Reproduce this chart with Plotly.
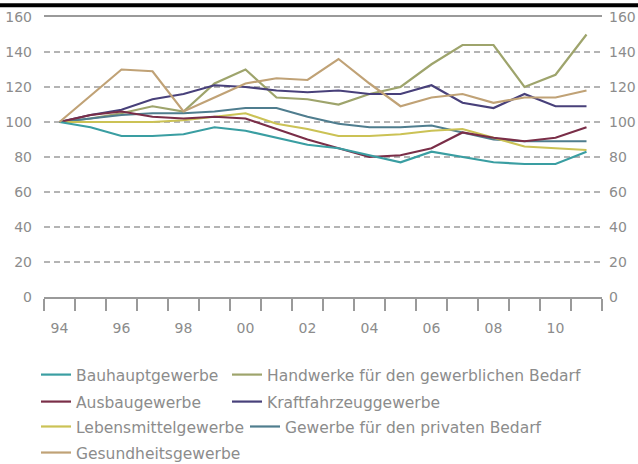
import plotly.graph_objects as go

years = list(range(1994, 2012))

bauhaupt = [100, 97, 92, 92, 93, 97, 95, 91, 87, 85, 81, 77, 83, 80, 77, 76, 76, 83]
handwerke = [100, 102, 105, 109, 106, 122, 130, 114, 113, 110, 116, 120, 133, 144, 144, 120, 127, 150]
ausbau = [100, 104, 106, 103, 102, 103, 102, 96, 90, 85, 80, 81, 85, 94, 91, 89, 91, 97]
kraft = [100, 104, 107, 113, 116, 121, 120, 118, 117, 118, 116, 116, 121, 111, 108, 116, 109, 109]
lebensmittel = [100, 100, 100, 100, 101, 103, 105, 99, 96, 92, 92, 93, 95, 96, 91, 86, 85, 84]
privat = [100, 102, 104, 105, 105, 106, 108, 108, 103, 99, 97, 97, 98, 94, 90, 89, 89, 89]
gesundheit = [100, 115, 130, 129, 106, 114, 122, 125, 124, 136, 122, 109, 114, 116, 111, 114, 114, 118]

names = ["Bauhauptgewerbe", "Handwerke für den gewerblichen Bedarf",
         "Ausbaugewerbe", "Kraftfahrzeuggewerbe",
         "Lebensmittelgewerbe", "Gewerbe für den privaten Bedarf",
         "Gesundheitsgewerbe"]
series = [bauhaupt, handwerke, ausbau, kraft, lebensmittel, privat, gesundheit]
colors = ["#3a9ea2", "#9ea46c", "#7a2e48", "#48407a", "#cbc255", "#4f7d8e", "#c0a276"]
legend_ids = ["legend", "legend", "legend2", "legend2", "legend3", "legend3", "legend4"]
legend_widths = [146, 340, 146, 200, 164, 290, 180]

tick_years = [1994, 1996, 1998, 2000, 2002, 2004, 2006, 2008, 2010]
tick_text = ["94", "96", "98", "00", "02", "04", "06", "08", "10"]
y_ticks = [0, 20, 40, 60, 80, 100, 120, 140, 160]

FONT = "DejaVu Sans"
GRAY = "#8c8c8c"

fig = go.Figure()
order = [6, 1, 3, 5, 4, 2, 0]
for i in order:
    fig.add_trace(go.Scatter(
        x=years, y=series[i], name=names[i], mode="lines",
        line=dict(color=colors[i], width=2.2),
        legend=legend_ids[i], legendrank=i + 1, legendwidth=legend_widths[i],
        yaxis="y2" if i == 6 else "y",
    ))

leg_common = dict(orientation="h", xref="paper", yref="paper",
                  xanchor="left", yanchor="middle", bgcolor="rgba(0,0,0,0)",
                  font=dict(family=FONT, size=15.5, color=GRAY),
                  traceorder="normal", itemwidth=30)
LX = -8 / 558

fig.update_layout(
    width=638, height=464,
    margin=dict(l=44, r=36, t=17, b=167, autoexpand=False),
    paper_bgcolor="white", plot_bgcolor="white",
    showlegend=True,
    legend=dict(x=LX, y=-0.2786, **leg_common),
    legend2=dict(x=LX, y=-0.375, **leg_common),
    legend3=dict(x=LX, y=-0.464, **leg_common),
    legend4=dict(x=LX, y=-0.557, **leg_common),
    xaxis=dict(
        range=[1993.5, 2011.5], tickmode="array", tickvals=tick_years, ticktext=tick_text,
        ticks="outside", ticklen=8, tickcolor="rgba(0,0,0,0)",
        tickfont=dict(family=FONT, size=14, color=GRAY), ticklabelstandoff=9,
        showgrid=False, zeroline=False, automargin=False,
        showline=True, mirror=True, linecolor="#9a9a9a", linewidth=2,
        minor=dict(tickmode="linear", tick0=1993.5, dtick=1, ticks="outside",
                   ticklen=12, tickcolor="#9a9a9a", tickwidth=1.5, showgrid=False),
    ),
    yaxis=dict(
        range=[0, 160], tickmode="array", tickvals=y_ticks, automargin=False,
        tickfont=dict(family=FONT, size=14, color=GRAY), ticklabelstandoff=11,
        showgrid=True, gridcolor="#b4b4b4", gridwidth=1.5, griddash="6px,4px",
        zeroline=False, showline=False, ticks="",
    ),
    yaxis2=dict(
        range=[0, 160], tickmode="array", tickvals=y_ticks, overlaying="y", side="right",
        anchor="x", automargin=False,
        tickfont=dict(family=FONT, size=14, color=GRAY), ticklabelstandoff=6,
        showgrid=False, zeroline=False, showline=False, ticks="",
    ),
    shapes=[dict(type="line", xref="paper", yref="paper", layer="above",
                 x0=-44 / 558, x1=594 / 558, y0=1.042, y1=1.042,
                 line=dict(color="black", width=4))],
)

fig.write_html("out.html", config={"displayModeBar": False},
               post_script="document.body.style.margin='0px';")
